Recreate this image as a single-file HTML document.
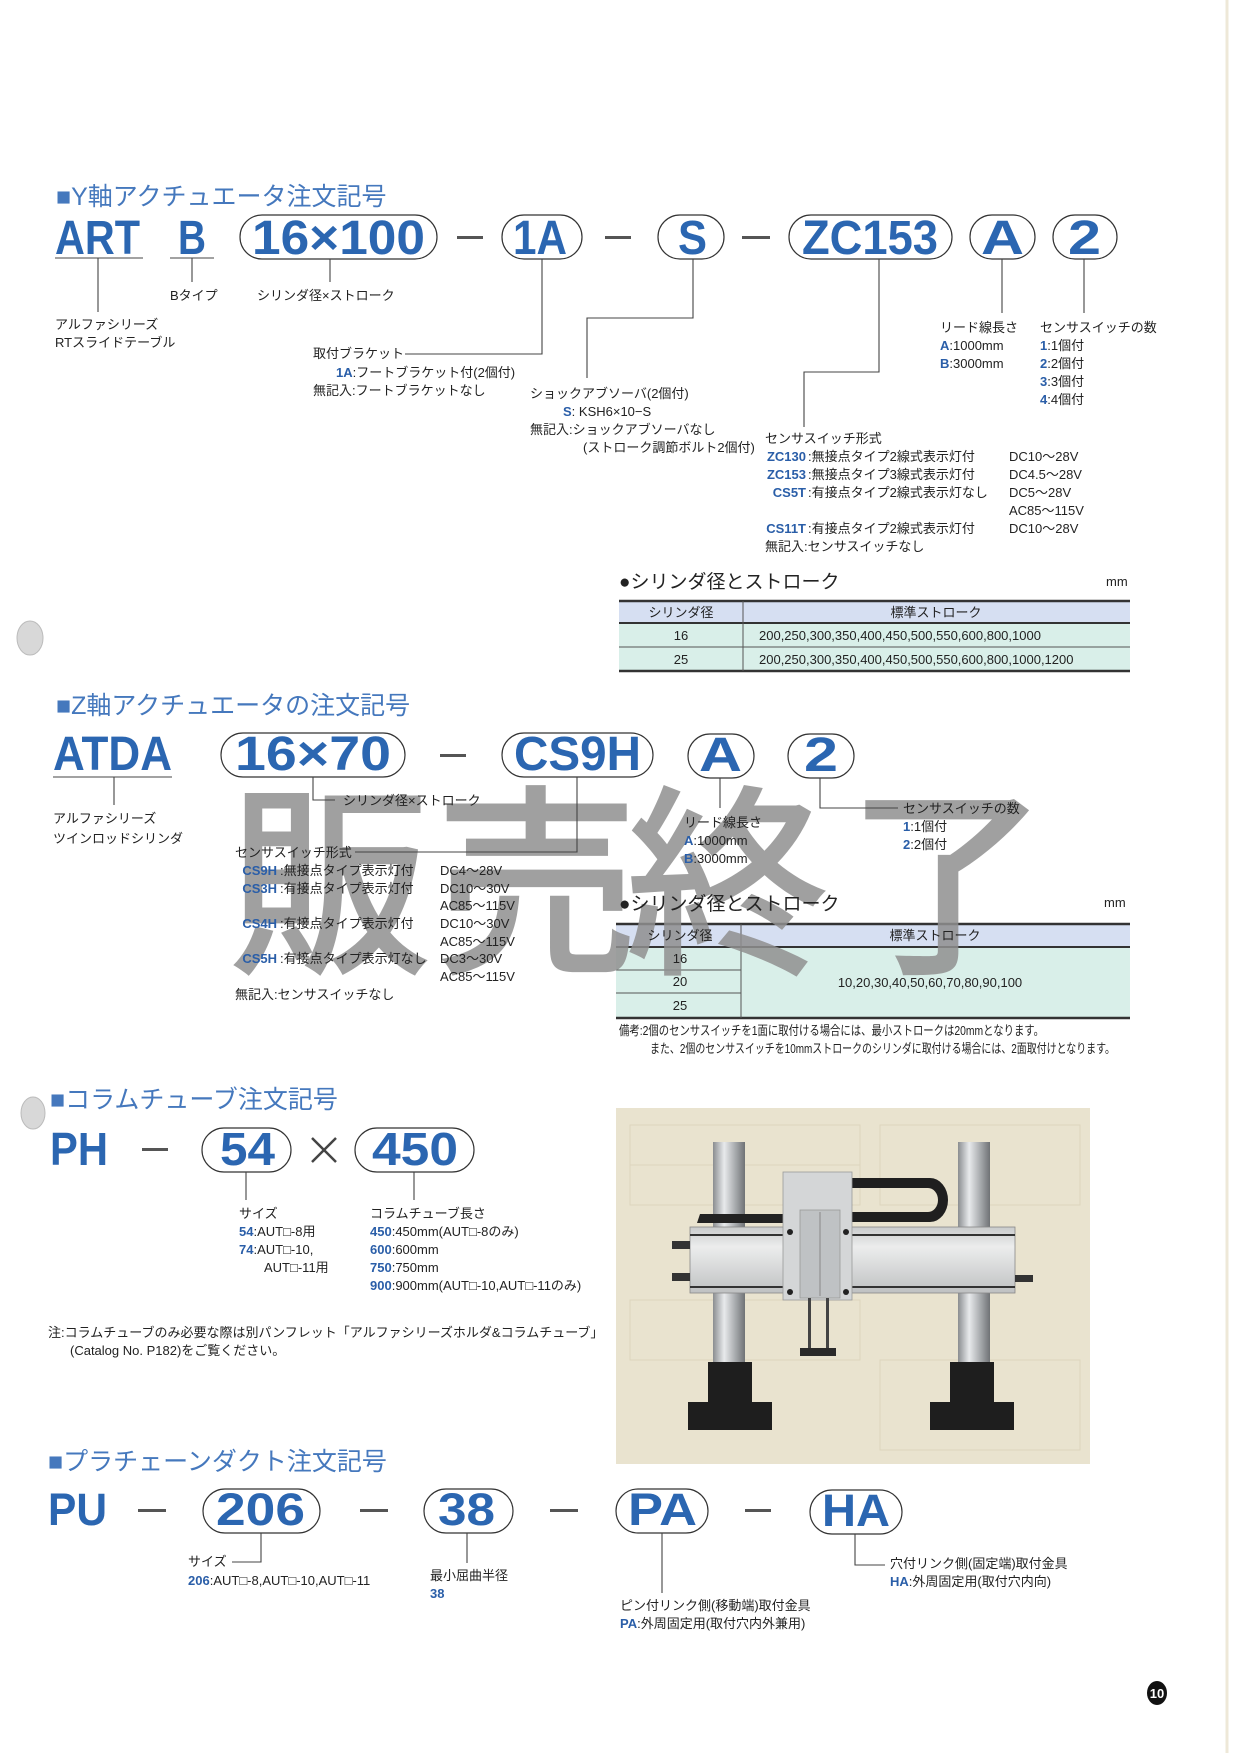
<!DOCTYPE html>
<html><head><meta charset="utf-8"><style>
html,body{margin:0;padding:0;background:#fff;}
svg{display:block;}
.t{font-family:"Liberation Sans","Noto Sans CJK JP",sans-serif;}
.h{font-family:"Liberation Sans","Noto Sans CJK JP",sans-serif;font-size:25px;fill:#4578bd;}
.big{font-family:"Liberation Sans",sans-serif;font-weight:bold;fill:#2b66b1;}
.s{font-family:"Liberation Sans","Noto Sans CJK JP",sans-serif;font-size:13px;fill:#222;}
.b{fill:#2a5ea8;font-weight:bold;}
.p{fill:none;stroke:#333;stroke-width:1.2;}
.l{fill:none;stroke:#444;stroke-width:1.1;}
</style></head><body>
<svg width="1240" height="1753" viewBox="0 0 1240 1753" xmlns="http://www.w3.org/2000/svg">
<rect width="1240" height="1753" fill="#fff"/>
<line x1="1227" y1="0" x2="1227" y2="1753" stroke="#eee8d8" stroke-width="3"/>
<ellipse cx="30" cy="638" rx="13" ry="17" fill="#d8d8d8" stroke="#bbb"/>
<ellipse cx="33" cy="1113" rx="12" ry="16" fill="#d8d8d8" stroke="#bbb"/>

<text class="h" x="56" y="205">■Y軸アクチュエータ注文記号</text>
<text class="big" x="55" y="254" font-size="48" textLength="85" lengthAdjust="spacingAndGlyphs">ART</text>
<text class="big" x="178" y="254" font-size="48" textLength="28" lengthAdjust="spacingAndGlyphs">B</text>
<rect class="p" x="240" y="215" width="197" height="44" rx="22"/>
<text class="big" x="252" y="254" font-size="48" textLength="173" lengthAdjust="spacingAndGlyphs">16×100</text>
<rect x="457" y="236" width="26" height="3" fill="#555"/>
<rect class="p" x="502" y="215" width="80" height="44" rx="22"/>
<text class="big" x="513" y="254" font-size="48" textLength="54" lengthAdjust="spacingAndGlyphs">1A</text>
<rect x="605" y="236" width="26" height="3" fill="#555"/>
<rect class="p" x="658" y="215" width="66" height="44" rx="22"/>
<text class="big" x="678" y="254" font-size="48" textLength="29" lengthAdjust="spacingAndGlyphs">S</text>
<rect x="742" y="236" width="28" height="3" fill="#555"/>
<rect class="p" x="789" y="215" width="163" height="44" rx="22"/>
<text class="big" x="802" y="254" font-size="48" textLength="136" lengthAdjust="spacingAndGlyphs">ZC153</text>
<rect class="p" x="970" y="215" width="65" height="44" rx="22"/>
<text class="big" x="981" y="254" font-size="48" textLength="43" lengthAdjust="spacingAndGlyphs">A</text>
<rect class="p" x="1053" y="215" width="64" height="44" rx="22"/>
<text class="big" x="1068" y="254" font-size="48" textLength="33" lengthAdjust="spacingAndGlyphs">2</text>
<line class="l" x1="55" y1="258" x2="143" y2="258"/>
<line class="l" x1="170" y1="258" x2="214" y2="258"/>
<polyline class="l" points="98,258 98,312"/>
<polyline class="l" points="192,258 192,282"/>
<polyline class="l" points="330,259 330,282"/>
<polyline class="l" points="542,259 542,354 405,354"/>
<polyline class="l" points="693,259 693,318 587,318 587,378"/>
<polyline class="l" points="879,259 879,372 804,372 804,427"/>
<polyline class="l" points="1002,259 1002,313"/>
<polyline class="l" points="1084,259 1084,313"/>
<text class="s" x="170" y="300">Bタイプ</text>
<text class="s" x="257" y="300">シリンダ径×ストローク</text>
<text class="s" x="55" y="329">アルファシリーズ</text>
<text class="s" x="55" y="347">RTスライドテーブル</text>
<text class="s" x="313" y="358">取付ブラケット</text>
<text class="s" x="336" y="377"><tspan class="b">1A</tspan>:フートブラケット付(2個付)</text>
<text class="s" x="313" y="395">無記入:フートブラケットなし</text>
<text class="s" x="530" y="398">ショックアブソーバ(2個付)</text>
<text class="s" x="563" y="416"><tspan class="b">S</tspan>: KSH6×10−S</text>
<text class="s" x="530" y="434">無記入:ショックアブソーバなし</text>
<text class="s" x="583" y="452">(ストローク調節ボルト2個付)</text>
<text class="s" x="765" y="443">センサスイッチ形式</text>
<text class="s b" x="806" y="461" text-anchor="end">ZC130</text>
<text class="s b" x="806" y="479" text-anchor="end">ZC153</text>
<text class="s b" x="806" y="497" text-anchor="end">CS5T</text>
<text class="s b" x="806" y="533" text-anchor="end">CS11T</text>
<text class="s" x="808" y="461">:無接点タイプ2線式表示灯付</text>
<text class="s" x="808" y="479">:無接点タイプ3線式表示灯付</text>
<text class="s" x="808" y="497">:有接点タイプ2線式表示灯なし</text>
<text class="s" x="808" y="533">:有接点タイプ2線式表示灯付</text>
<text class="s" x="765" y="551">無記入:センサスイッチなし</text>
<text class="s" x="1009" y="461">DC10～28V</text>
<text class="s" x="1009" y="479">DC4.5～28V</text>
<text class="s" x="1009" y="497">DC5～28V</text>
<text class="s" x="1009" y="515">AC85～115V</text>
<text class="s" x="1009" y="533">DC10～28V</text>
<text class="s" x="940" y="332">リード線長さ</text>
<text class="s" x="940" y="350"><tspan class="b">A</tspan>:1000mm</text>
<text class="s" x="940" y="368"><tspan class="b">B</tspan>:3000mm</text>
<text class="s" x="1040" y="332">センサスイッチの数</text>
<text class="s" x="1040" y="350"><tspan class="b">1</tspan>:1個付</text>
<text class="s" x="1040" y="368"><tspan class="b">2</tspan>:2個付</text>
<text class="s" x="1040" y="386"><tspan class="b">3</tspan>:3個付</text>
<text class="s" x="1040" y="404"><tspan class="b">4</tspan>:4個付</text>

<text class="t" x="619" y="588" font-size="19" fill="#222">●シリンダ径とストローク</text>
<text class="s" x="1106" y="586">mm</text>
<rect x="619" y="601" width="511" height="22" fill="#d6dff2"/>
<rect x="619" y="623" width="511" height="48" fill="#d9efe9"/>
<line x1="619" y1="601" x2="1130" y2="601" stroke="#333" stroke-width="2.5"/>
<line x1="619" y1="623" x2="1130" y2="623" stroke="#333" stroke-width="2"/>
<line x1="619" y1="647" x2="1130" y2="647" stroke="#555" stroke-width="1"/>
<line x1="619" y1="671" x2="1130" y2="671" stroke="#333" stroke-width="2.5"/>
<line x1="743" y1="601" x2="743" y2="671" stroke="#555" stroke-width="1"/>
<text class="s" x="681" y="617" text-anchor="middle" fill="#444">シリンダ径</text>
<text class="s" x="936" y="617" text-anchor="middle" fill="#444">標準ストローク</text>
<text class="s" x="681" y="640" text-anchor="middle">16</text>
<text class="s" x="681" y="664" text-anchor="middle">25</text>
<text class="s" x="759" y="640">200,250,300,350,400,450,500,550,600,800,1000</text>
<text class="s" x="759" y="664">200,250,300,350,400,450,500,550,600,800,1000,1200</text>

<rect x="616" y="924" width="514" height="23" fill="#d6dff2"/>
<rect x="616" y="947" width="514" height="71" fill="#d9efe9"/>
<line x1="616" y1="924" x2="1130" y2="924" stroke="#333" stroke-width="2.5"/>
<line x1="616" y1="947" x2="1130" y2="947" stroke="#333" stroke-width="2"/>
<line x1="616" y1="970" x2="741" y2="970" stroke="#555" stroke-width="1"/>
<line x1="616" y1="993" x2="741" y2="993" stroke="#555" stroke-width="1"/>
<line x1="616" y1="1018" x2="1130" y2="1018" stroke="#333" stroke-width="2.5"/>
<line x1="741" y1="924" x2="741" y2="1018" stroke="#555" stroke-width="1"/>
<g font-family="'Noto Sans CJK JP',sans-serif" font-size="205" fill="#8f8f8f" fill-opacity="0.85" font-weight="500">
<text x="228" y="958">販</text><text x="434" y="958">売</text><text x="625" y="958">終</text><text x="845" y="958">了</text>
</g>
<text class="h" x="56" y="714" font-size="24">■Z軸アクチュエータの注文記号</text>
<text class="big" x="53" y="770" font-size="48" textLength="119" lengthAdjust="spacingAndGlyphs">ATDA</text>
<line class="l" x1="53" y1="777" x2="172" y2="777"/>
<polyline class="l" points="114,777 114,805"/>
<text class="s" x="53" y="823">アルファシリーズ</text>
<text class="s" x="53" y="843">ツインロッドシリンダ</text>
<rect class="p" x="221" y="733" width="184" height="44" rx="22"/>
<text class="big" x="235" y="770" font-size="48" textLength="156" lengthAdjust="spacingAndGlyphs">16×70</text>
<polyline class="l" points="313,777 313,800 335,800"/>
<text class="s" x="343" y="805">シリンダ径×ストローク</text>
<rect x="440" y="754" width="26" height="3" fill="#555"/>
<rect class="p" x="502" y="733" width="151" height="44" rx="22"/>
<text class="big" x="514" y="770" font-size="48" textLength="127" lengthAdjust="spacingAndGlyphs">CS9H</text>
<polyline class="l" points="577,777 577,852 355,852"/>
<rect class="p" x="688" y="734" width="66" height="44" rx="22"/>
<text class="big" x="699" y="771" font-size="48" textLength="43" lengthAdjust="spacingAndGlyphs">A</text>
<rect class="p" x="788" y="734" width="66" height="44" rx="22"/>
<text class="big" x="804" y="771" font-size="48" textLength="34" lengthAdjust="spacingAndGlyphs">2</text>
<polyline class="l" points="720,778 720,808"/>
<polyline class="l" points="820,778 820,808 898,808"/>
<text class="s" x="684" y="827">リード線長さ</text>
<text class="s" x="684" y="845"><tspan class="b">A</tspan>:1000mm</text>
<text class="s" x="684" y="863"><tspan class="b">B</tspan>:3000mm</text>
<text class="s" x="903" y="813">センサスイッチの数</text>
<text class="s" x="903" y="831"><tspan class="b">1</tspan>:1個付</text>
<text class="s" x="903" y="849"><tspan class="b">2</tspan>:2個付</text>
<text class="s" x="235" y="857">センサスイッチ形式</text>
<text class="s b" x="277" y="875" text-anchor="end">CS9H</text>
<text class="s b" x="277" y="893" text-anchor="end">CS3H</text>
<text class="s b" x="277" y="928" text-anchor="end">CS4H</text>
<text class="s b" x="277" y="963" text-anchor="end">CS5H</text>
<text class="s" x="280" y="875">:無接点タイプ表示灯付</text>
<text class="s" x="280" y="893">:有接点タイプ表示灯付</text>
<text class="s" x="280" y="928">:有接点タイプ表示灯付</text>
<text class="s" x="280" y="963">:有接点タイプ表示灯なし</text>
<text class="s" x="440" y="875">DC4～28V</text>
<text class="s" x="440" y="893">DC10～30V</text>
<text class="s" x="440" y="910">AC85～115V</text>
<text class="s" x="440" y="928">DC10～30V</text>
<text class="s" x="440" y="946">AC85～115V</text>
<text class="s" x="440" y="963">DC3～30V</text>
<text class="s" x="440" y="981">AC85～115V</text>
<text class="s" x="235" y="999">無記入:センサスイッチなし</text>
<text class="t" x="619" y="910" font-size="19" fill="#222">●シリンダ径とストローク</text>
<text class="s" x="1104" y="907">mm</text>
<text class="s" x="680" y="940" text-anchor="middle" fill="#444">シリンダ径</text>
<text class="s" x="935" y="940" text-anchor="middle" fill="#444">標準ストローク</text>
<text class="s" x="680" y="963" text-anchor="middle">16</text>
<text class="s" x="680" y="986" text-anchor="middle">20</text>
<text class="s" x="680" y="1010" text-anchor="middle">25</text>
<text class="s" x="930" y="987" text-anchor="middle">10,20,30,40,50,60,70,80,90,100</text>
<text class="s" x="619" y="1035" font-size="12" textLength="425" lengthAdjust="spacingAndGlyphs">備考:2個のセンサスイッチを1面に取付ける場合には、最小ストロークは20mmとなります。</text>
<text class="s" x="650" y="1053" font-size="12" textLength="465" lengthAdjust="spacingAndGlyphs">また、2個のセンサスイッチを10mmストロークのシリンダに取付ける場合には、2面取付けとなります。</text>

<text class="h" x="50" y="1108">■コラムチューブ注文記号</text>
<text class="big" x="50" y="1165" font-size="46" textLength="58" lengthAdjust="spacingAndGlyphs">PH</text>
<rect x="142" y="1148" width="26" height="3" fill="#555"/>
<rect class="p" x="202" y="1128" width="89" height="44" rx="22"/>
<text class="big" x="220" y="1165" font-size="46" textLength="55" lengthAdjust="spacingAndGlyphs">54</text>
<line x1="312" y1="1138" x2="336" y2="1162" stroke="#444" stroke-width="2.5"/>
<line x1="336" y1="1138" x2="312" y2="1162" stroke="#444" stroke-width="2.5"/>
<rect class="p" x="355" y="1128" width="119" height="44" rx="22"/>
<text class="big" x="372" y="1165" font-size="46" textLength="86" lengthAdjust="spacingAndGlyphs">450</text>
<polyline class="l" points="246,1172 246,1200"/>
<polyline class="l" points="414,1172 414,1200"/>
<text class="s" x="239" y="1218">サイズ</text>
<text class="s" x="239" y="1236"><tspan class="b">54</tspan>:AUT□-8用</text>
<text class="s" x="239" y="1254"><tspan class="b">74</tspan>:AUT□-10,</text>
<text class="s" x="264" y="1272">AUT□-11用</text>
<text class="s" x="370" y="1218">コラムチューブ長さ</text>
<text class="s" x="370" y="1236"><tspan class="b">450</tspan>:450mm(AUT□-8のみ)</text>
<text class="s" x="370" y="1254"><tspan class="b">600</tspan>:600mm</text>
<text class="s" x="370" y="1272"><tspan class="b">750</tspan>:750mm</text>
<text class="s" x="370" y="1290"><tspan class="b">900</tspan>:900mm(AUT□-10,AUT□-11のみ)</text>
<text class="s" x="48" y="1337">注:コラムチューブのみ必要な際は別パンフレット「アルファシリーズホルダ&amp;コラムチューブ」</text>
<text class="s" x="70" y="1355">(Catalog No. P182)をご覧ください。</text>

<g>
<rect x="616" y="1108" width="474" height="356" fill="#e9e3cf"/>
<g stroke="#ddd5bd" stroke-width="1" fill="none">
<rect x="630" y="1125" width="230" height="40"/><rect x="630" y="1165" width="230" height="40"/>
<rect x="880" y="1125" width="200" height="80"/><rect x="630" y="1300" width="230" height="60"/>
<rect x="880" y="1360" width="200" height="90"/>
</g>
<defs><linearGradient id="cyl" x1="0" x2="1"><stop offset="0" stop-color="#8a8d90"/><stop offset="0.35" stop-color="#e8eaec"/><stop offset="0.7" stop-color="#a7aaad"/><stop offset="1" stop-color="#6f7275"/></linearGradient>
<linearGradient id="beam" x1="0" y1="0" x2="0" y2="1"><stop offset="0" stop-color="#c9cbcc"/><stop offset="0.3" stop-color="#eceded"/><stop offset="1" stop-color="#bfc1c2"/></linearGradient></defs>
<rect x="713" y="1142" width="32" height="222" fill="url(#cyl)"/>
<rect x="958" y="1142" width="32" height="222" fill="url(#cyl)"/>
<path d="M708 1362 h44 v40 h20 v28 h-84 v-28 h20z" fill="#1e1e1e"/>
<path d="M950 1362 h44 v40 h20 v28 h-84 v-28 h20z" fill="#1e1e1e"/>
<path d="M700 1214 h85 v9 h-88z" fill="#222"/>
<path d="M850 1178 h80 a18 22 0 0 1 0 44 h-80 v-10 h78 a10 12 0 0 0 0 -24 h-78z" fill="#1f1f1f"/>
<rect x="690" y="1227" width="325" height="66" fill="url(#beam)" stroke="#888" stroke-width="0.8"/>
<line x1="690" y1="1235" x2="1015" y2="1235" stroke="#333" stroke-width="2"/>
<line x1="690" y1="1287" x2="1015" y2="1287" stroke="#333" stroke-width="2"/>
<rect x="672" y="1241" width="18" height="8" fill="#333"/><rect x="672" y="1273" width="18" height="8" fill="#333"/>
<rect x="1015" y="1275" width="18" height="7" fill="#333"/>
<rect x="783" y="1172" width="69" height="128" fill="#d4d6d7" stroke="#999" stroke-width="0.8"/>
<rect x="800" y="1210" width="40" height="88" fill="#bfc2c4" stroke="#999" stroke-width="0.8"/>
<line x1="820" y1="1212" x2="820" y2="1296" stroke="#888"/>
<circle cx="790" cy="1232" r="3" fill="#222"/><circle cx="846" cy="1232" r="3" fill="#222"/>
<circle cx="790" cy="1292" r="3" fill="#222"/><circle cx="846" cy="1292" r="3" fill="#222"/>
<rect x="808" y="1298" width="3" height="50" fill="#444"/><rect x="826" y="1298" width="3" height="50" fill="#444"/>
<rect x="800" y="1348" width="36" height="8" fill="#2a2a2a"/>
</g>

<text class="h" x="48" y="1470">■プラチェーンダクト注文記号</text>
<text class="big" x="48" y="1525" font-size="45" textLength="59" lengthAdjust="spacingAndGlyphs">PU</text>
<rect x="138" y="1509" width="28" height="3" fill="#555"/>
<rect class="p" x="203" y="1489" width="117" height="44" rx="22"/>
<text class="big" x="216" y="1525" font-size="45" textLength="89" lengthAdjust="spacingAndGlyphs">206</text>
<rect x="360" y="1509" width="28" height="3" fill="#555"/>
<rect class="p" x="424" y="1489" width="89" height="44" rx="22"/>
<text class="big" x="438" y="1525" font-size="45" textLength="57" lengthAdjust="spacingAndGlyphs">38</text>
<rect x="550" y="1509" width="28" height="3" fill="#555"/>
<rect class="p" x="616" y="1489" width="92" height="44" rx="22"/>
<text class="big" x="628" y="1525" font-size="45" textLength="69" lengthAdjust="spacingAndGlyphs">PA</text>
<rect x="745" y="1509" width="26" height="3" fill="#555"/>
<rect class="p" x="810" y="1490" width="92" height="44" rx="22"/>
<text class="big" x="822" y="1526" font-size="45" textLength="68" lengthAdjust="spacingAndGlyphs">HA</text>
<polyline class="l" points="261,1533 261,1562 232,1562"/>
<polyline class="l" points="467,1533 467,1563"/>
<polyline class="l" points="662,1533 662,1593"/>
<polyline class="l" points="855,1534 855,1565 885,1565"/>
<text class="s" x="188" y="1566">サイズ</text>
<text class="s" x="188" y="1585"><tspan class="b">206</tspan>:AUT□-8,AUT□-10,AUT□-11</text>
<text class="s" x="430" y="1580">最小屈曲半径</text>
<text class="s b" x="430" y="1598">38</text>
<text class="s" x="620" y="1610">ピン付リンク側(移動端)取付金具</text>
<text class="s" x="620" y="1628"><tspan class="b">PA</tspan>:外周固定用(取付穴内外兼用)</text>
<text class="s" x="890" y="1568">穴付リンク側(固定端)取付金具</text>
<text class="s" x="890" y="1586"><tspan class="b">HA</tspan>:外周固定用(取付穴内向)</text>

<ellipse cx="1157" cy="1693" rx="10" ry="12" fill="#111"/>
<text x="1157" y="1698" text-anchor="middle" font-family="'Liberation Sans',sans-serif" font-size="13" font-weight="bold" fill="#fff">10</text>
</svg>
</body></html>
